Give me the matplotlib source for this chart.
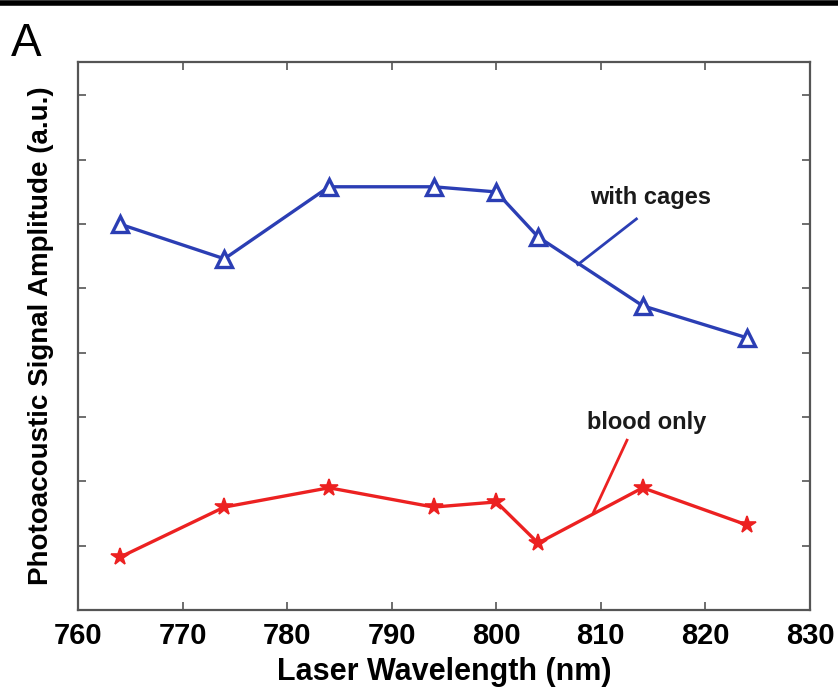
import matplotlib
matplotlib.use("Agg")
import matplotlib.pyplot as plt
from matplotlib.lines import Line2D

wavelength = [764, 774, 784, 794, 800, 804, 814, 824]
with_cages = [6.00, 5.46, 6.58, 6.58, 6.50, 5.80, 4.73, 4.23]
blood_only = [0.82, 1.60, 1.90, 1.60, 1.68, 1.04, 1.90, 1.32]
x_ticks = [760, 770, 780, 790, 800, 810, 820, 830]
y_ticks = [0, 1, 2, 3, 4, 5, 6, 7, 8]

plt.rcParams['font.family'] = ['Liberation Sans', 'DejaVu Sans']

fig = plt.figure(figsize=(8.38, 6.87), dpi=100)
ax = fig.add_axes([78/838, 1-610/687, (810-78)/838, (610-62)/687])

blue = '#2b3eb4'
red = '#ec2121'
ax.plot(wavelength, with_cages, color=blue, lw=2.4, marker='^', ms=12,
        mfc='white', mec=blue, mew=2.4)
ax.plot(wavelength, blood_only, color=red, lw=2.4, marker='*', ms=13,
        mfc=red, mec=red, mew=1.2)

ax.set_xlim(760, 830)
ax.set_ylim(0, 8.52)
ax.set_xticks(x_ticks)
ax.set_yticks(y_ticks)
ax.set_yticklabels([])
ax.tick_params(direction='in', length=6, width=1.2, color='#555555',
               top=True, right=True, labelsize=21, pad=9)
for lab in ax.get_xticklabels():
    lab.set_fontweight('bold')
for s in ax.spines.values():
    s.set_color('#555555')
    s.set_linewidth(1.6)

ax.set_xlabel('Laser Wavelength (nm)', fontsize=22, fontweight='bold', labelpad=5)
ax.set_ylabel('Photoacoustic Signal Amplitude (a.u.)', fontsize=20, fontweight='bold', labelpad=8)

# annotations
ax.plot([813.4, 807.8], [6.08, 5.37], color=blue, lw=2)
ax.text(814.8, 6.41, 'with cages', ha='center', va='center', fontsize=17,
        fontweight='bold', color='#1a1a1a')
ax.plot([812.5, 809.3], [2.64, 1.52], color=red, lw=2)
ax.text(814.4, 2.91, 'blood only', ha='center', va='center', fontsize=17,
        fontweight='bold', color='#1a1a1a')

fig.text(11/838, 1-56/687, 'A', fontsize=33, ha='left', va='baseline')
fig.add_artist(Line2D([0, 1], [1-2.5/687, 1-2.5/687], transform=fig.transFigure,
                      color='black', lw=4))

fig.savefig('out.png', dpi=100)
